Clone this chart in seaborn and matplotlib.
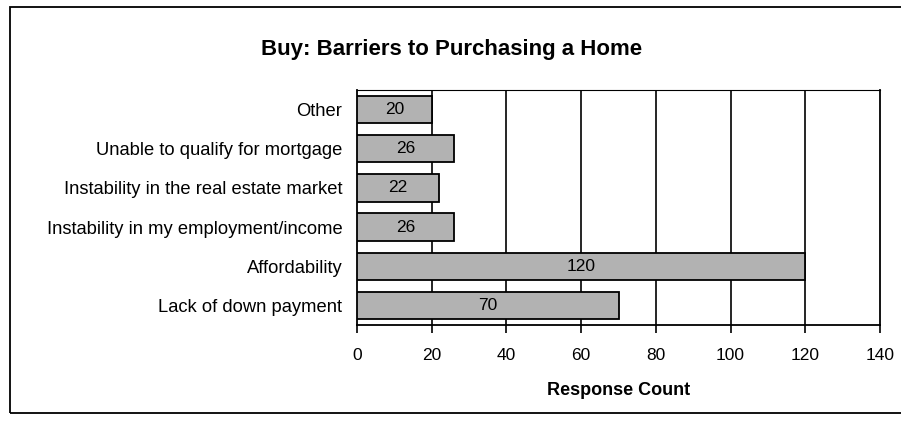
import matplotlib
matplotlib.use("Agg")
import matplotlib.pyplot as plt
import matplotlib.patches as mpatches
import seaborn as sns
import pandas as pd
import numpy as np

# Survey responses
categories = [
    "Other",
    "Unable to qualify for mortgage",
    "Instability in the real estate market",
    "Instability in my employment/income",
    "Affordability",
    "Lack of down payment",
]
counts = [20, 26, 22, 26, 120, 70]
x_ticks = [0, 20, 40, 60, 80, 100, 120, 140]

df = pd.DataFrame({"Barrier": categories, "Count": counts})

sns.set_theme(style="white")
plt.rcParams["font.family"] = ["Liberation Sans", "DejaVu Sans"]
plt.rcParams["text.color"] = "black"
plt.rcParams["axes.labelcolor"] = "black"
plt.rcParams["xtick.color"] = "black"
plt.rcParams["ytick.color"] = "black"

fig = plt.figure(figsize=(9.01, 4.21), dpi=100)
ax = fig.add_axes([357 / 901, 1 - 325 / 421, (880 - 357) / 901, (325 - 90) / 421])

sns.barplot(data=df, x="Count", y="Barrier", orient="h", ax=ax,
            color="#b2b2b2", edgecolor="black", linewidth=1.3,
            width=0.7, saturation=1, zorder=3)

ax.set_xlim(0, 140)
ax.set_ylim(len(categories) - 0.5, -0.5)
ax.set_xticks(x_ticks)
ax.set_xticklabels([str(t) for t in x_ticks], fontsize=12.5)

# vertical gridlines
for t in x_ticks[1:-1]:
    ax.axvline(t, color="black", linewidth=1.2, zorder=1)

# category boundary ticks on the y axis
ax.set_yticks(range(len(categories)))
ax.set_yticklabels(categories, fontsize=13.2)
ax.set_yticks(np.arange(-0.5, len(categories), 1.0), minor=True)
ax.tick_params(axis="y", which="major", length=0, pad=10.5)
ax.tick_params(axis="y", which="minor", length=3.6, width=1.2, color="black", direction="out")
ax.tick_params(axis="x", which="major", length=5.5, width=1.2, color="black",
               direction="out", pad=11, bottom=True)

ax.set_ylabel("")
ax.set_xlabel("Response Count", fontsize=13, fontweight="bold", labelpad=14)

for side in ["left", "bottom", "right"]:
    ax.spines[side].set_visible(True)
    ax.spines[side].set_color("black")
    ax.spines[side].set_linewidth(1.3)
ax.spines["top"].set_visible(True)
ax.spines["top"].set_color("black")
ax.spines["top"].set_linewidth(0.8)

# value labels centred in the bars
for i, v in enumerate(counts):
    ax.text(v / 2, i, str(v), ha="center", va="center", fontsize=12.5,
            color="black", zorder=4)

fig.text(452 / 901, 1 - 49 / 421, "Buy: Barriers to Purchasing a Home",
         ha="center", va="center", fontsize=16, fontweight="bold")

# outer frame
frame = mpatches.Rectangle((10 / 901, 1 - 413 / 421), 1.0, (413 - 7) / 421,
                           transform=fig.transFigure, fill=False,
                           edgecolor="black", linewidth=1.3, clip_on=False)
fig.patches.append(frame)

fig.savefig("out.png", dpi=100, facecolor="white")
